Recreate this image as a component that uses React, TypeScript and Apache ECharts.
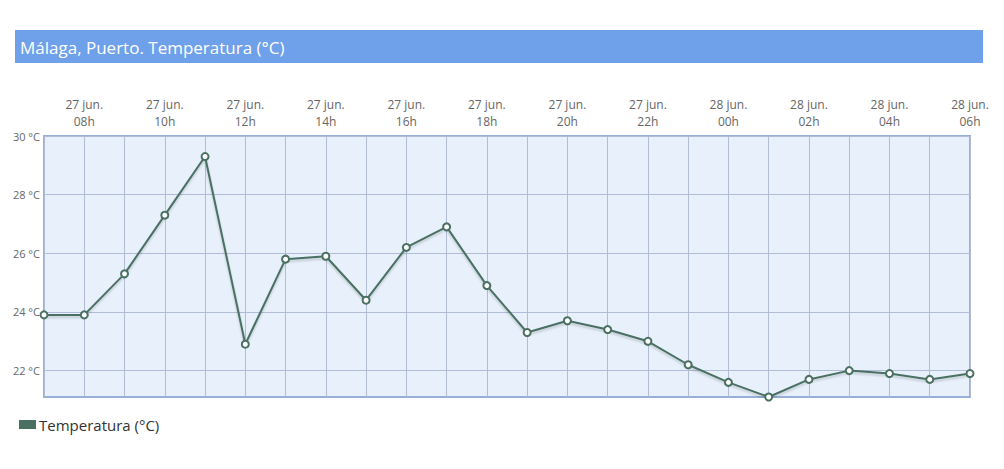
import { useEffect, useRef } from "react";
import * as echarts from "echarts";

const hours = [
  "27 jun.\n07h", "27 jun.\n08h", "27 jun.\n09h", "27 jun.\n10h", "27 jun.\n11h", "27 jun.\n12h",
  "27 jun.\n13h", "27 jun.\n14h", "27 jun.\n15h", "27 jun.\n16h", "27 jun.\n17h", "27 jun.\n18h",
  "27 jun.\n19h", "27 jun.\n20h", "27 jun.\n21h", "27 jun.\n22h", "27 jun.\n23h", "28 jun.\n00h",
  "28 jun.\n01h", "28 jun.\n02h", "28 jun.\n03h", "28 jun.\n04h", "28 jun.\n05h", "28 jun.\n06h",
];

const temperatura = [
  23.9, 23.9, 25.3, 27.3, 29.3, 22.9, 25.8, 25.9, 24.4, 26.2, 26.9, 24.9,
  23.3, 23.7, 23.4, 23.0, 22.2, 21.6, 21.1, 21.7, 22.0, 21.9, 21.7, 21.9,
];

const yTicks = [22, 24, 26, 28, 30];

const titleText = "Málaga, Puerto. Temperatura (°C)";
const seriesName = "Temperatura (°C)";

const font = "'Open Sans', 'DejaVu Sans', sans-serif";
const green = "#4a7062";

const App = () => {
  const chartRef = useRef(null);

  useEffect(() => {
    document.body.style.margin = "0";
    let myChart: echarts.ECharts | null = null;
    if (chartRef.current) {
      myChart = echarts.init(chartRef.current, null, { renderer: "svg" });
      myChart.setOption({
        animation: false,
        textStyle: { fontFamily: font },
        graphic: [
          {
            type: "rect",
            shape: { x: 15, y: 30, width: 968, height: 33 },
            style: { fill: "#6fa0ea" },
          },
          {
            type: "text",
            x: 20,
            y: 47,
            style: {
              text: titleText,
              fill: "#ffffff",
              fontSize: 17,
              fontFamily: font,
              verticalAlign: "middle",
            },
          },
        ],
        legend: {
          left: 14,
          top: 412,
          icon: "rect",
          itemWidth: 15,
          itemHeight: 7,
          data: [{ name: seriesName, icon: "rect", itemStyle: { color: green } }],
          textStyle: { fontSize: 15, color: "#333", fontFamily: font, padding: [0, 0, 0, -1] },
        },
        grid: {
          left: 44,
          right: 34,
          top: 136,
          height: 261,
          show: true,
          backgroundColor: "#e7f0fb",
          borderColor: "#98afd9",
          borderWidth: 2,
        },
        xAxis: {
          type: "category",
          position: "top",
          boundaryGap: false,
          data: hours,
          axisLine: { show: false },
          axisTick: { show: false },
          axisLabel: {
            interval: (i: number) => i % 2 === 1,
            color: "#666",
            fontSize: 12,
            lineHeight: 17,
            margin: 6,
            fontFamily: font,
          },
          splitLine: { show: true, interval: 0, lineStyle: { color: "#b1bdd6", width: 1 } },
        },
        yAxis: {
          type: "value",
          min: 21.1,
          max: 30,
          axisLine: { show: false },
          axisTick: { show: false, customValues: yTicks },
          axisLabel: {
            customValues: yTicks,
            formatter: (v: number) => `${v} °C`,
            color: "#666",
            fontSize: 11,
            margin: 4,
            fontFamily: font,
          },
          splitLine: { show: true, lineStyle: { color: "#b1bdd6", width: 1 } },
        },
        series: [
          {
            name: seriesName,
            type: "line",
            data: temperatura,
            symbol: "circle",
            symbolSize: 7,
            lineStyle: {
              color: green,
              width: 2,
              shadowColor: "rgba(0,0,0,0.18)",
              shadowBlur: 2,
              shadowOffsetY: 2,
            },
            itemStyle: { color: "#ffffff", borderColor: green, borderWidth: 2 },
          },
        ],
      });
    }

    return () => {
      myChart && myChart.dispose();
    };
  }, []);

  return <div ref={chartRef} style={{ width: "1004px", height: "469px" }}></div>;
};

export default App;
